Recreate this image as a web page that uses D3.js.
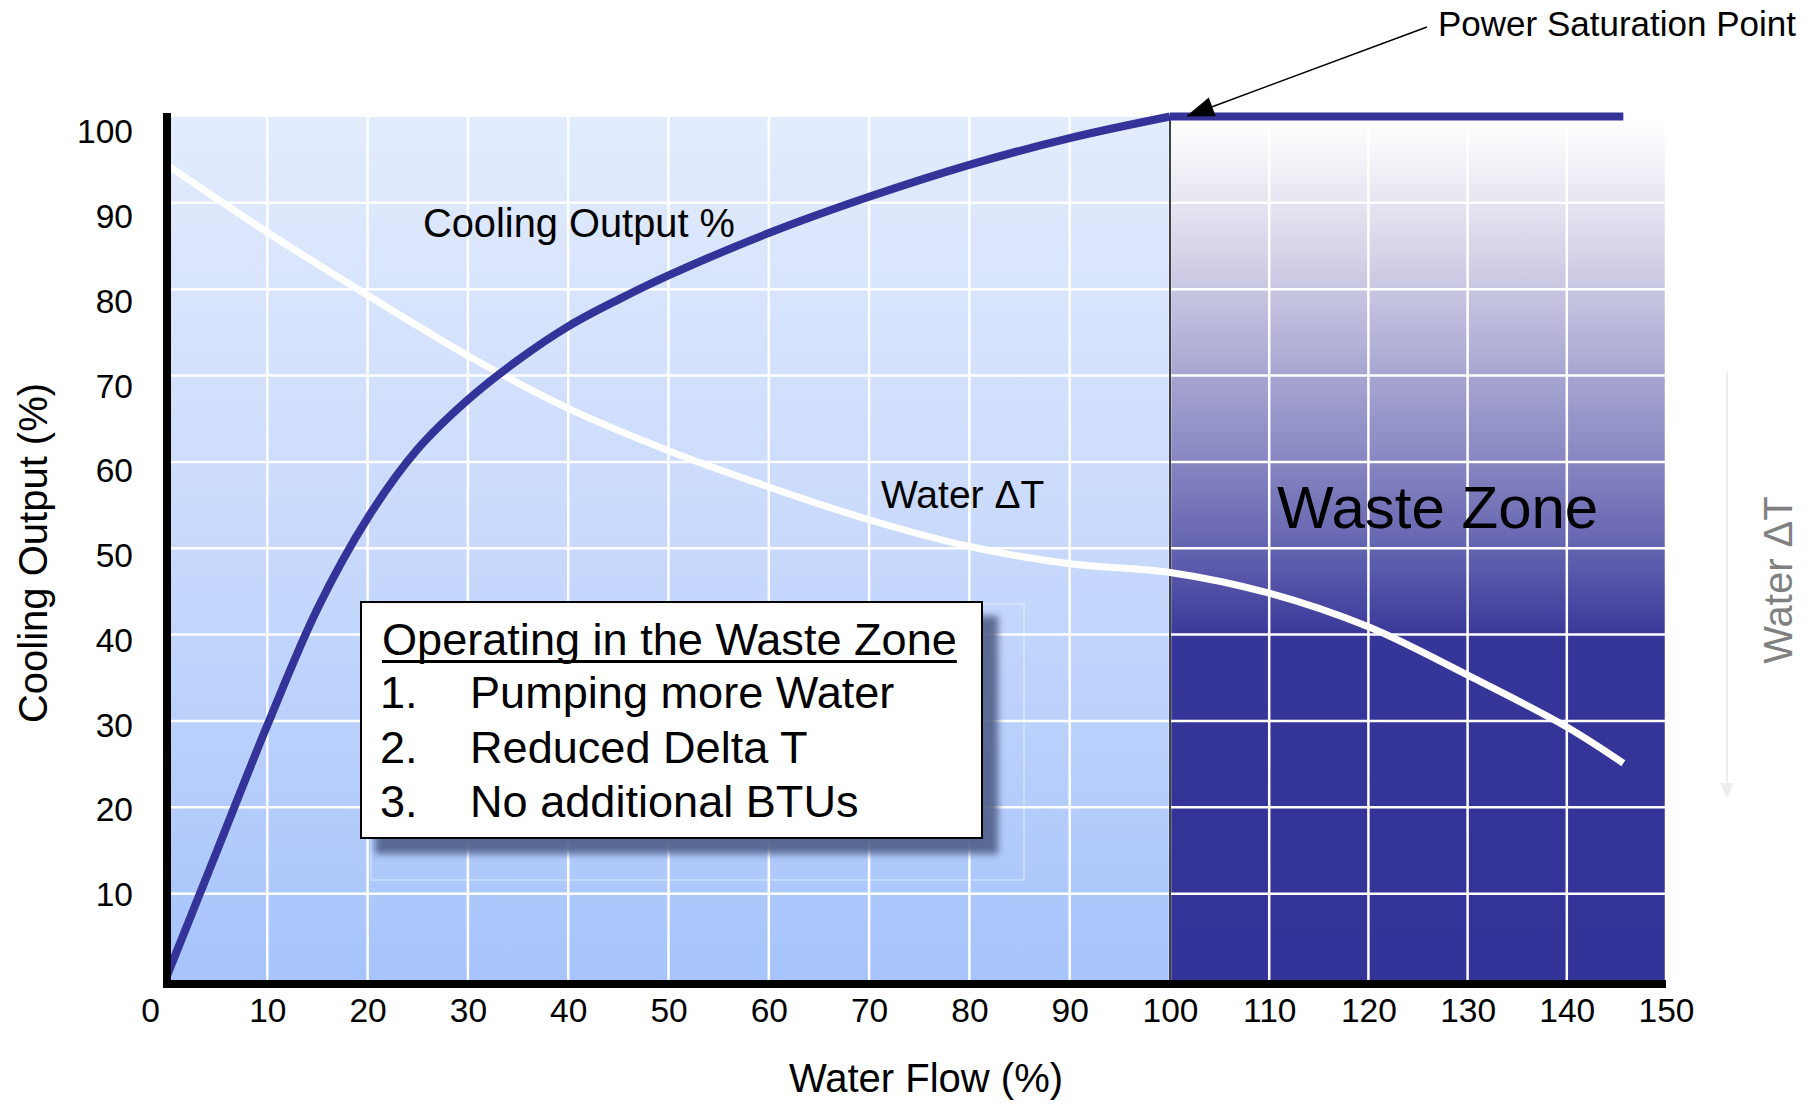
<!DOCTYPE html>
<html>
<head>
<meta charset="utf-8">
<script src="https://cdn.jsdelivr.net/npm/d3@7"></script>
<style>
  html, body { margin: 0; padding: 0; background: #ffffff; }
  svg { display: block; font-family: "Liberation Sans", Arial, Helvetica, sans-serif; }
</style>
</head>
<body>
<svg id="chart" width="1820" height="1105"></svg>
<script>
// Cooling output (%) against water flow (%), rising part of the curve
const flowPct       = [0, 5, 10, 15, 20, 25, 30, 35, 40, 45, 50, 60, 70, 80, 90, 100];
const coolingOutput = [0.5, 15, 29.5, 43, 53.5, 61.5, 67.2, 71.8, 75.7, 78.8, 81.6, 86.5, 90.7, 94.4, 97.5, 100];

// Beyond the saturation point the output stays flat
const plateauFlow   = [100, 145.7];
const plateauOutput = [100, 100];

// Water delta-T curve
const deltaFlow   = [0, 10, 20, 30, 40, 50, 60, 70, 80, 90, 100, 110, 120, 130, 140, 145.7];
const waterDeltaT = [94.4, 86.6, 79.3, 72.3, 66.2, 61.3, 57.1, 53.3, 50.2, 48.2, 47.2, 44.8, 40.9, 35.3, 29.3, 25.1];

// Axis ticks
const xTicks = [0, 10, 20, 30, 40, 50, 60, 70, 80, 90, 100, 110, 120, 130, 140, 150];
const yTicks = [10, 20, 30, 40, 50, 60, 70, 80, 90, 100];

// Waste zone range and saturation point
const wasteZone = [100, 150];
const saturationPoint = [100, 100];

// Callout box text
const boxTitle = "Operating in the Waste Zone";
const boxItems = ["Pumping more Water", "Reduced Delta T", "No additional BTUs"];

const svg = d3.select("#chart");

// the normal range and the waste zone are laid out at slightly different widths
const x = d3.scaleLinear().domain([0, 100, 150]).range([167, 1170, 1666]);
const y = d3.scaleLinear().domain([0, 100]).range([980, 116.5]);
// tick labels sit on their own, slightly wider spacing
const yLabel = d3.scaleLinear().domain([10, 100]).range([895, 132]);

const plotTop = 117, plotBottom = 980, plotLeft = 171, plotRight = x(150);

const defs = svg.append("defs");

const bg = defs.append("linearGradient").attr("id", "flowBg")
  .attr("gradientUnits", "userSpaceOnUse")
  .attr("x1", 0).attr("x2", 0).attr("y1", plotTop).attr("y2", plotBottom);
bg.append("stop").attr("offset", 0).attr("stop-color", "#e3ecfd");
bg.append("stop").attr("offset", 0.5).attr("stop-color", "#c8d9fc");
bg.append("stop").attr("offset", 1).attr("stop-color", "#a6c4fb");

const wz = defs.append("linearGradient").attr("id", "wasteBg")
  .attr("gradientUnits", "userSpaceOnUse")
  .attr("x1", 0).attr("x2", 0).attr("y1", plotTop).attr("y2", plotBottom);
[[0.003, "#ffffff"], [0.093, "#e8e7f2"], [0.195, "#c9c8e2"], [0.294, "#a8a7d2"],
 [0.40, "#8786c1"], [0.506, "#6261af"], [0.607, "#363598"], [1, "#333399"]]
  .forEach(([o, c]) => wz.append("stop").attr("offset", o).attr("stop-color", c));

const blur = defs.append("filter").attr("id", "shadowBlur")
  .attr("x", "-10%").attr("y", "-10%").attr("width", "120%").attr("height", "120%");
blur.append("feGaussianBlur").attr("stdDeviation", 3.5);

// Plot backgrounds
svg.append("rect")
  .attr("x", plotLeft).attr("y", plotTop)
  .attr("width", x(wasteZone[0]) - plotLeft).attr("height", plotBottom - plotTop)
  .attr("fill", "url(#flowBg)");
svg.append("rect")
  .attr("x", x(wasteZone[0])).attr("y", plotTop)
  .attr("width", x(wasteZone[1]) - x(wasteZone[0])).attr("height", plotBottom - plotTop)
  .attr("fill", "url(#wasteBg)");

// Grid
const grid = svg.append("g").attr("stroke", "#ffffff").attr("stroke-width", 2.5);
grid.selectAll("line.v").data(xTicks.filter(d => d > 0)).join("line")
  .attr("class", "v")
  .attr("x1", d => x(d)).attr("x2", d => x(d))
  .attr("y1", plotTop).attr("y2", plotBottom);
grid.selectAll("line.h").data(yTicks.filter(d => d < 100)).join("line")
  .attr("class", "h")
  .attr("x1", plotLeft).attr("x2", plotRight)
  .attr("y1", d => y(d)).attr("y2", d => y(d));

// Boundary of the waste zone
svg.append("line")
  .attr("x1", x(wasteZone[0])).attr("x2", x(wasteZone[0]))
  .attr("y1", y(saturationPoint[1])).attr("y2", plotBottom)
  .attr("stroke", "#000").attr("stroke-width", 1.5);

// Curves
const line = d3.line().x(d => x(d[0])).y(d => y(d[1])).curve(d3.curveCatmullRom.alpha(0.5));

svg.append("path")
  .datum(deltaFlow.map((f, i) => [f, waterDeltaT[i]]))
  .attr("d", line)
  .attr("fill", "none").attr("stroke", "#ffffff").attr("stroke-width", 7);

svg.append("path")
  .datum(flowPct.map((f, i) => [f, coolingOutput[i]]))
  .attr("d", line)
  .attr("fill", "none").attr("stroke", "#333399").attr("stroke-width", 8)
  .attr("stroke-linejoin", "round");
svg.append("path")
  .datum(plateauFlow.map((f, i) => [f, plateauOutput[i]]))
  .attr("d", d3.line().x(d => x(d[0])).y(d => y(d[1])))
  .attr("fill", "none").attr("stroke", "#333399").attr("stroke-width", 8);

// Callout box with shadow
const box = { x: 361, y: 602, w: 621, h: 236 };
svg.append("rect")
  .attr("x", box.x + 10).attr("y", box.y + 2).attr("width", box.w + 32).attr("height", box.h + 40)
  .attr("fill", "none").attr("stroke", "#ffffff").attr("stroke-opacity", 0.3).attr("stroke-width", 2);
svg.append("rect")
  .attr("x", box.x + 14).attr("y", box.y + 14).attr("width", box.w + 2).attr("height", box.h + 2)
  .attr("fill", "#4f5f88").attr("opacity", 0.9).attr("filter", "url(#shadowBlur)");
svg.append("rect")
  .attr("x", box.x).attr("y", box.y).attr("width", box.w).attr("height", box.h)
  .attr("fill", "#ffffff").attr("stroke", "#000").attr("stroke-width", 2);

const boxFont = 45.1;
const title = svg.append("text")
  .attr("x", 382).attr("y", 655)
  .attr("font-size", boxFont).attr("fill", "#000").text(boxTitle);
const titleW = title.node().getComputedTextLength();
svg.append("line")
  .attr("x1", 382).attr("x2", 382 + titleW)
  .attr("y1", 661.5).attr("y2", 661.5)
  .attr("stroke", "#000").attr("stroke-width", 3);

const itemRows = svg.append("g").attr("font-size", boxFont).attr("fill", "#000");
itemRows.selectAll("text.num").data(boxItems).join("text")
  .attr("class", "num")
  .attr("x", 380).attr("y", (d, i) => 708 + i * 54.5)
  .text((d, i) => (i + 1) + ".");
itemRows.selectAll("text.item").data(boxItems).join("text")
  .attr("class", "item")
  .attr("x", 470).attr("y", (d, i) => 708 + i * 54.5)
  .text(d => d);

// Curve labels
svg.append("text").attr("x", 423).attr("y", 237).attr("font-size", 39.8).attr("fill", "#000")
  .text("Cooling Output %");
svg.append("text").attr("x", 881).attr("y", 508).attr("font-size", 39).attr("fill", "#000")
  .text("Water \u0394T");
svg.append("text").attr("x", 1277).attr("y", 528).attr("font-size", 60).attr("fill", "#000")
  .text("Waste Zone");

// Saturation point annotation
const tip = [x(saturationPoint[0]) + 16, y(saturationPoint[1])];
const start = [1427, 27];
const len = Math.hypot(start[0] - tip[0], start[1] - tip[1]);
const u = [(start[0] - tip[0]) / len, (start[1] - tip[1]) / len];
const n = [-u[1], u[0]];
const headL = 28, headW = 10;
const base = [tip[0] + u[0] * headL, tip[1] + u[1] * headL];
svg.append("line")
  .attr("x1", start[0]).attr("y1", start[1]).attr("x2", base[0]).attr("y2", base[1])
  .attr("stroke", "#000").attr("stroke-width", 1.5);
svg.append("polygon")
  .attr("points", [tip, [base[0] + n[0] * headW, base[1] + n[1] * headW],
                        [base[0] - n[0] * headW, base[1] - n[1] * headW]].map(p => p.join(",")).join(" "))
  .attr("fill", "#000");
svg.append("text").attr("x", 1438).attr("y", 36).attr("font-size", 35).attr("fill", "#000")
  .text("Power Saturation Point");

// Secondary axis hint on the right
svg.append("line")
  .attr("x1", 1727).attr("x2", 1727).attr("y1", 372).attr("y2", 786)
  .attr("stroke", "#eeeeee").attr("stroke-width", 2);
svg.append("polygon").attr("points", "1720,783 1734,783 1727,798").attr("fill", "#eeeeee");
svg.append("text")
  .attr("transform", "translate(1792,580) rotate(-90)")
  .attr("text-anchor", "middle").attr("font-size", 40).attr("fill", "#808080")
  .text("Water \u0394T");

// Axes
const xAxis = svg.append("g")
  .attr("transform", `translate(0,${plotBottom})`)
  .call(d3.axisBottom(x).tickValues(xTicks).tickSize(0).tickPadding(18).tickFormat(d3.format("d")));
xAxis.select(".domain").remove();
xAxis.selectAll("text")
  .attr("font-family", "'Liberation Sans', Arial, sans-serif")
  .attr("font-size", 33.5).attr("fill", "#000");
xAxis.selectAll(".tick").filter(d => d === 0).select("text").attr("x", -17);

const yAxis = svg.append("g")
  .attr("transform", "translate(133,0)")
  .call(d3.axisLeft(yLabel).tickValues(yTicks).tickSize(0).tickPadding(0).tickFormat(d3.format("d")));
yAxis.select(".domain").remove();
yAxis.selectAll("text")
  .attr("font-family", "'Liberation Sans', Arial, sans-serif")
  .attr("font-size", 33.5).attr("fill", "#000");

// Heavy axis bars
svg.append("line")
  .attr("x1", 167).attr("x2", 167).attr("y1", 113).attr("y2", 988)
  .attr("stroke", "#000").attr("stroke-width", 8);
svg.append("line")
  .attr("x1", 163).attr("x2", plotRight).attr("y1", 984).attr("y2", 984)
  .attr("stroke", "#000").attr("stroke-width", 8);

// Axis titles
svg.append("text")
  .attr("x", 926).attr("y", 1092)
  .attr("text-anchor", "middle").attr("font-size", 40).attr("fill", "#000")
  .text("Water Flow (%)");
svg.append("text")
  .attr("transform", "translate(47,553) rotate(-90)")
  .attr("text-anchor", "middle").attr("font-size", 40).attr("fill", "#000")
  .text("Cooling Output (%)");
</script>
</body>
</html>
